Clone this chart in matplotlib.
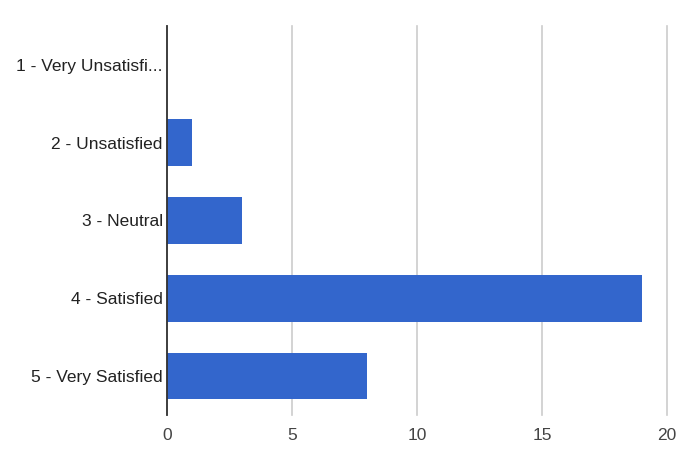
import matplotlib
matplotlib.use("Agg")
import matplotlib.pyplot as plt

plt.rcParams["font.family"] = ["Liberation Sans", "DejaVu Sans"]

categories = ["1 - Very Unsatisfi...", "2 - Unsatisfied", "3 - Neutral",
              "4 - Satisfied", "5 - Very Satisfied"]
counts = [0, 1, 3, 19, 8]
x_ticks = [0, 5, 10, 15, 20]

fig = plt.figure(figsize=(6.92, 4.58), dpi=100)
ax = fig.add_axes([167 / 692, 1 - 415 / 458, 500 / 692, 389 / 458])

pos = list(range(len(categories)))
ax.barh(pos, counts, height=0.6, color="#3366CC", zorder=3)
ax.set_ylim(len(categories) - 0.5, -0.5)
ax.set_xlim(0, 20)
ax.set_xticks(x_ticks)
ax.set_yticks(pos)
ax.set_yticklabels(categories, fontsize=12.5, color="#222222")
ax.set_xticklabels([str(t) for t in x_ticks], fontsize=12.5, color="#444444")

ax.grid(axis="x", color="#cccccc", linewidth=1.2, zorder=0)
for line in ax.get_xgridlines():
    line.set_clip_on(False)
for side in ["top", "right", "bottom"]:
    ax.spines[side].set_visible(False)
ax.spines["left"].set_color("#333333")
ax.spines["left"].set_linewidth(1.3)
ax.spines["left"].set_zorder(4)
ax.tick_params(axis="y", length=0, pad=3)
ax.tick_params(axis="x", length=0, pad=9)

fig.savefig("out.png", dpi=100)
plt.close(fig)
